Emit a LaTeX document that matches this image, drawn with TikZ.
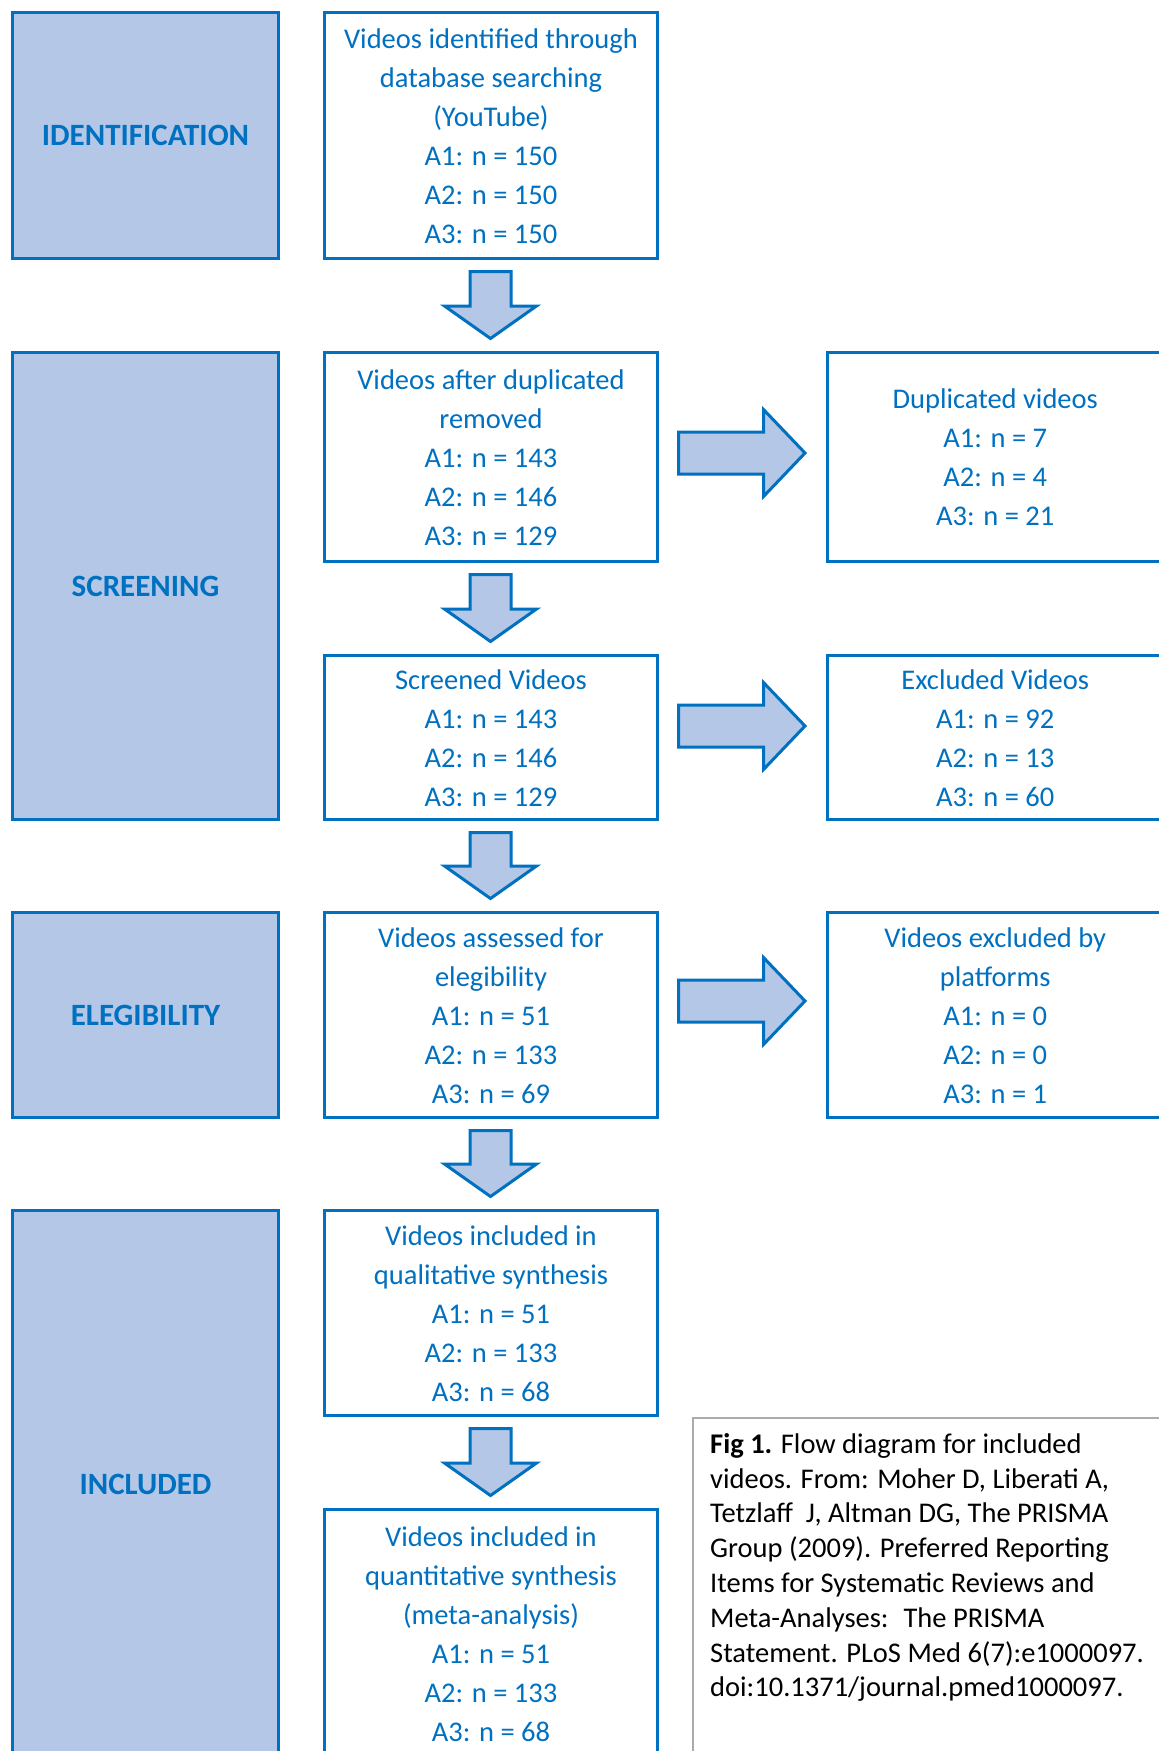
\documentclass[tikz,border=0pt]{standalone}
\usepackage{fontspec}
\setmainfont{Carlito}
\usetikzlibrary{calc}
\definecolor{lineblue}{HTML}{0070C0}
\definecolor{fillblue}{HTML}{B4C7E7}
\definecolor{txtblue}{HTML}{0070C0}
\definecolor{capgray}{HTML}{ABABAB}
% struts that fix the first and last baselines of the box texts
\newcommand\tstrut{\rule[-9.5pt]{0pt}{39pt}}
\newcommand\capstrut{\rule{0pt}{26pt}}

% block arrow pointing down, from the bottom of one box to the top of the next
\newcommand\flowdown[2]{%
  \draw[blockarrow] let \p1=($(#1.south)+(-0.5,11.5)$), \p2=($(#2.north)+(-0.5,-12.5)$) in
    (\x1-20.5pt,\y1) -- (\x1+20.5pt,\y1) -- (\x1+20.5pt,\y2+32.5pt) -- (\x1+46pt,\y2+32.5pt)
    -- (\x1,\y2) -- (\x1-46pt,\y2+32.5pt) -- (\x1-20.5pt,\y2+32.5pt) -- cycle;}
% block arrow pointing right, #3 shifts it vertically
\newcommand\flowright[3]{%
  \draw[blockarrow] let \p1=($(#1.east)+(19.5,#3)$), \p2=($(#2.west)+(-21,0)$) in
    (\x1,\y1+21pt) -- (\x2-41.5pt,\y1+21pt) -- (\x2-41.5pt,\y1+43.5pt) -- (\x2,\y1)
    -- (\x2-41.5pt,\y1-43.5pt) -- (\x2-41.5pt,\y1-21pt) -- (\x1,\y1-21pt) -- cycle;}

\begin{document}
\begin{tikzpicture}[x=1pt,y=-1pt,
  stage/.style={draw=lineblue, line width=3pt, fill=fillblue, text=txtblue,
    font=\bfseries\fontsize{31}{36}\selectfont, inner sep=0pt, anchor=north west,
    minimum width=266pt},
  info/.style={draw=lineblue, line width=3pt, fill=white, text=txtblue,
    font=\fontsize{28.5}{39}\selectfont, align=center, inner sep=0pt, anchor=north west},
  mid/.style={info, minimum width=333pt},
  side/.style={info, minimum width=335.5pt},
  blockarrow/.style={draw=lineblue, line width=3pt, fill=fillblue, line join=miter},
  capframe/.style={draw=capgray, line width=2pt, fill=white, inner sep=0pt, anchor=north west,
    minimum width=480pt, minimum height=400pt},
  captext/.style={text=black, font=\fontsize{28.5}{34.8}\selectfont, align=left,
    inner sep=0pt, anchor=north west}]

\fill[white] (0,0) rectangle (1159,1751);
\useasboundingbox (0,0) rectangle (1159,1751);
\clip (0,0) rectangle (1159,1751);

% stage column
\node[stage, minimum height=246pt] (s1) at (11,11) {IDENTIFICATION};
\node[stage, minimum height=467pt] (s2) at (11,351) {SCREENING};
\node[stage, minimum height=205pt] (s3) at (11,911) {ELEGIBILITY};
\node[stage, minimum height=547pt] (s4) at (11,1209) {INCLUDED};

% main flow
\node[mid, minimum height=246pt] (m1) at (323,11)
  {\tstrut Videos identified through\\database searching\\(YouTube)\\A1: n = 150\\A2: n = 150\\A3: n = 150\tstrut};
\node[mid, minimum height=209pt] (m2) at (323,351)
  {\tstrut Videos after duplicated\\removed\\A1: n = 143\\A2: n = 146\\A3: n = 129\tstrut};
\node[mid, minimum height=164pt] (m3) at (323,654)
  {\tstrut Screened Videos\\A1: n = 143\\A2: n = 146\\A3: n = 129\tstrut};
\node[mid, minimum height=205pt] (m4) at (323,911)
  {\tstrut Videos assessed for\\elegibility\\A1: n = 51\\A2: n = 133\\A3: n = 69\tstrut};
\node[mid, minimum height=205pt] (m5) at (323,1209)
  {\tstrut Videos included in\\qualitative synthesis\\A1: n = 51\\A2: n = 133\\A3: n = 68\tstrut};
\node[mid, minimum height=248pt] (m6) at (323,1508)
  {\tstrut Videos included in\\quantitative synthesis\\(meta-analysis)\\A1: n = 51\\A2: n = 133\\A3: n = 68\tstrut};

% removed records
\node[side, minimum height=209pt] (r1) at (826,351)
  {\tstrut Duplicated videos\\A1: n = 7\\A2: n = 4\\A3: n = 21\tstrut};
\node[side, minimum height=164pt] (r2) at (826,654)
  {\tstrut Excluded Videos\\A1: n = 92\\A2: n = 13\\A3: n = 60\tstrut};
\node[side, minimum height=205pt] (r3) at (826,911)
  {\tstrut Videos excluded by\\platforms\\A1: n = 0\\A2: n = 0\\A3: n = 1\tstrut};

% arrows
\flowdown{m1}{m2}
\flowdown{m2}{m3}
\flowdown{m3}{m4}
\flowdown{m4}{m5}
\flowdown{m5}{m6}
\flowright{m2}{r1}{-4}
\flowright{m3}{r2}{-11.5}
\flowright{m4}{r3}{-14}

% caption
\node[capframe] (capbox) at (692,1417) {};
\node[captext] (cap) at ($(capbox.north west)+(18,10)$)
  {\capstrut\textbf{Fig 1.} Flow diagram for included\\
   videos. From: Moher D, Liberati A,\\
   Tetzlaff~ J, Altman DG, The PRISMA\\
   Group (2009). Preferred Reporting\\
   Items for Systematic Reviews and\\
   Meta-Analyses:~ The PRISMA\\
   Statement. PLoS Med 6(7):e1000097.\\
   doi:10.1371/journal.pmed1000097.};
\end{tikzpicture}
\end{document}
